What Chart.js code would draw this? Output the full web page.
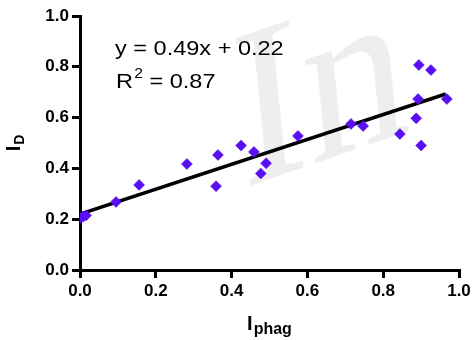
<!DOCTYPE html>
<html>
<head>
<meta charset="utf-8">
<script src="https://cdn.jsdelivr.net/npm/chart.js@4.4.0/dist/chart.umd.min.js"></script>
<style>
  html, body { margin: 0; padding: 0; background: #fff; }
  #wrap { width: 475px; height: 340px; }
</style>
</head>
<body>
<div id="wrap"><canvas id="myChart" width="475" height="340"></canvas></div>
<script>
// scatter points (I_phag, I_D)
const phag = [0.0, 0.008, 0.016, 0.095, 0.156, 0.282, 0.359, 0.364, 0.425, 0.459, 0.477, 0.491,
              0.575, 0.715, 0.747, 0.844, 0.887, 0.892, 0.894, 0.900, 0.926, 0.968];
const dval = [0.205, 0.21, 0.215, 0.268, 0.335, 0.417, 0.33, 0.453, 0.49, 0.465, 0.38, 0.42,
              0.528, 0.575, 0.567, 0.535, 0.597, 0.673, 0.807, 0.49, 0.787, 0.673];

// fitted line end points
const fitX = [0, 0.965];
const fitY = [0.22, 0.693];

const tickVals = [0, 0.2, 0.4, 0.6, 0.8, 1.0];
const eqText = 'y = 0.49x + 0.22';
const r2Text = '= 0.87';

const tickFont = { family: 'Liberation Sans', size: 17, weight: 'bold' };

const pts = phag.map((x, i) => ({ x: x, y: dval[i] }));
const fit = fitX.map((x, i) => ({ x: x, y: fitY[i] }));

// watermark + annotation + axis titles with subscripts
const extras = {
  id: 'extras',
  beforeDraw(chart) {
    const ctx = chart.ctx;
    ctx.save();
    ctx.fillStyle = '#fff';
    ctx.fillRect(0, 0, chart.width, chart.height);
    ctx.translate(243, 188);
    ctx.transform(0.9, -0.31, 0.1, 1, 0, 0);
    ctx.fillStyle = '#eeeeee';
    ctx.font = '225px "Liberation Serif"';
    ctx.textBaseline = 'alphabetic';
    ctx.fillText('In', 0, 0);
    ctx.restore();
  },
  afterDraw(chart) {
    const ctx = chart.ctx;
    const a = chart.chartArea;
    ctx.save();
    ctx.fillStyle = '#000';
    ctx.textBaseline = 'alphabetic';

    // equation text (slightly wide, like the original)
    ctx.save();
    ctx.translate(115, 0);
    ctx.scale(1.12, 1);
    ctx.font = '21px "Liberation Sans"';
    ctx.textAlign = 'left';
    ctx.fillText(eqText, 0, 55);
    ctx.fillText('R', 1, 88);
    let w = ctx.measureText('R').width;
    ctx.font = '14px "Liberation Sans"';
    ctx.fillText('2', 1 + w + 1, 78);
    let w2 = ctx.measureText('2').width;
    ctx.font = '21px "Liberation Sans"';
    ctx.fillText(' ' + r2Text, 1 + w + w2 + 1, 88);
    ctx.restore();

    // x title: I_phag
    const cx = (a.left + a.right) / 2;
    ctx.font = 'bold 20px "Liberation Sans"';
    const iw = ctx.measureText('I').width;
    ctx.font = 'bold 16px "Liberation Sans"';
    const pw = ctx.measureText('phag').width;
    let sx = cx - (iw + pw + 1) / 2;
    ctx.font = 'bold 20px "Liberation Sans"';
    ctx.fillText('I', sx, 330);
    ctx.font = 'bold 16px "Liberation Sans"';
    ctx.fillText('phag', sx + iw + 1, 334);

    // y title: I_D rotated
    ctx.translate(20, (a.top + a.bottom) / 2);
    ctx.rotate(-Math.PI / 2);
    ctx.font = 'bold 20px "Liberation Sans"';
    const iw2 = ctx.measureText('I').width;
    ctx.font = 'bold 14px "Liberation Sans"';
    const dw = ctx.measureText('D').width;
    sx = -(iw2 + dw + 1) / 2;
    ctx.font = 'bold 20px "Liberation Sans"';
    ctx.fillText('I', sx, 0);
    ctx.font = 'bold 14px "Liberation Sans"';
    ctx.fillText('D', sx + iw2 + 1, 4);
    ctx.restore();
  }
};

const axisOpts = (fitFn) => ({
  type: 'linear',
  min: 0,
  max: 1,
  afterBuildTicks(scale) {
    scale.ticks = tickVals.map(v => ({ value: v }));
  },
  ticks: {
    color: '#000',
    font: tickFont,
    padding: 3,
    callback: v => v.toFixed(1)
  },
  grid: {
    drawOnChartArea: false,
    drawTicks: true,
    tickLength: 8,
    color: '#000',
    lineWidth: 3
  },
  border: { display: true, color: '#000', width: 3 },
  afterFit: fitFn
});

const config = {
  type: 'scatter',
  data: {
    datasets: [
      {
        label: 'fit',
        type: 'line',
        data: fit,
        borderColor: '#000',
        borderWidth: 3.5,
        pointRadius: 0,
        fill: false,
        order: 2
      },
      {
        label: 'data',
        data: pts,
        pointStyle: 'rectRot',
        pointRadius: 5.5,
        pointBorderWidth: 0.5,
        backgroundColor: 'rgb(88, 16, 242)',
        borderColor: 'rgb(88, 16, 242)',
        order: 1
      }
    ]
  },
  options: {
    responsive: false,
    animation: false,
    layout: { padding: { left: 20, right: 16, top: 16, bottom: 0 } },
    plugins: {
      legend: { display: false },
      tooltip: { enabled: false }
    },
    scales: {
      x: axisOpts(s => { s.height = 70; }),
      y: axisOpts(s => { s.width = 60; })
    }
  },
  plugins: [extras]
};

const myChart = new Chart(document.getElementById('myChart'), config);
</script>
</body>
</html>
